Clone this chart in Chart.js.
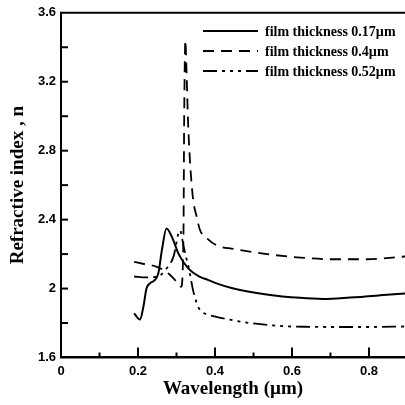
<!DOCTYPE html>
<html>
<head>
<meta charset="utf-8">
<script src="https://cdn.jsdelivr.net/npm/chart.js@4"></script>
<style>
  html, body { margin: 0; padding: 0; background: #fff; }
</style>
</head>
<body>
<canvas id="myChart" width="405" height="405"></canvas>
<script>
// series (wavelength in µm, refractive index n)
const seriesLabels = ['film thickness 0.17\u00b5m', 'film thickness 0.4\u00b5m', 'film thickness 0.52\u00b5m'];

const wl017 = [0.19, 0.205, 0.214, 0.222, 0.231, 0.244, 0.253, 0.262, 0.274, 0.288, 0.305, 0.331, 0.361, 0.383, 0.404, 0.448, 0.534, 0.621, 0.681, 0.751, 0.837, 0.894];
const n017  = [1.856, 1.82, 1.894, 2.0, 2.03, 2.05, 2.09, 2.222, 2.348, 2.30, 2.203, 2.116, 2.068, 2.049, 2.03, 2.0, 1.966, 1.946, 1.94, 1.948, 1.962, 1.972];

const wl04 = [0.19, 0.22, 0.249, 0.279, 0.30, 0.312, 0.318, 0.320, 0.323, 0.326, 0.330, 0.335, 0.343, 0.352, 0.361, 0.38, 0.404, 0.448, 0.534, 0.621, 0.707, 0.794, 0.894];
const n04  = [2.155, 2.14, 2.126, 2.087, 2.04, 2.01, 2.3, 3.0, 3.44, 3.26, 2.97, 2.74, 2.52, 2.42, 2.34, 2.29, 2.251, 2.23, 2.2, 2.18, 2.17, 2.17, 2.186];

const wl052 = [0.19, 0.22, 0.249, 0.274, 0.292, 0.309, 0.318, 0.325, 0.331, 0.337, 0.343, 0.352, 0.361, 0.38, 0.404, 0.45, 0.491, 0.577, 0.65, 0.707, 0.8, 0.894];
const n052  = [2.07, 2.065, 2.068, 2.116, 2.184, 2.338, 2.25, 2.18, 2.13, 2.06, 1.99, 1.92, 1.875, 1.85, 1.836, 1.815, 1.80, 1.782, 1.778, 1.777, 1.777, 1.78];

const xMin = 0, xMax = 0.8935, xStep = 0.1;
const yMin = 1.6, yMax = 3.6, yStep = 0.2;

const toPoints = (xs, ys) => xs.map((x, i) => ({ x: x, y: ys[i] }));

// ticks inside the frame, top frame line, and the legend
const framePlugin = {
    id: 'frame',
    afterDraw(chart) {
        const ctx = chart.ctx;
        const area = chart.chartArea;
        const xs = chart.scales.x, ys = chart.scales.y;
        ctx.save();
        ctx.strokeStyle = '#000';
        ctx.lineWidth = 2;
        ctx.beginPath();
        ctx.moveTo(area.left - 1, area.top);
        ctx.lineTo(area.right, area.top);
        ctx.stroke();

        xs.ticks.forEach(t => {
            if (t.value <= xMin) return;
            const px = xs.getPixelForValue(t.value);
            const len = (Math.round(t.value * 10) % 2 === 0) ? 10 : 5;
            ctx.beginPath();
            ctx.moveTo(px, area.bottom);
            ctx.lineTo(px, area.bottom - len);
            ctx.stroke();
        });
        ys.ticks.forEach(t => {
            if (t.value <= yMin || t.value >= yMax) return;
            const py = ys.getPixelForValue(t.value);
            ctx.beginPath();
            ctx.moveTo(area.left, py);
            ctx.lineTo(area.left + 7, py);
            ctx.stroke();
        });

        // legend
        ctx.font = 'bold 14px "Liberation Serif", "Times New Roman", serif';
        ctx.fillStyle = '#000';
        ctx.textBaseline = 'middle';
        chart.data.datasets.forEach((ds, i) => {
            const y = 31 + i * 20;
            ctx.save();
            ctx.lineWidth = ds.borderWidth;
            ctx.setLineDash(ds.borderDash || []);
            ctx.beginPath();
            ctx.moveTo(203, y);
            ctx.lineTo(258, y);
            ctx.stroke();
            ctx.restore();
            ctx.fillText(ds.label, 265, y + 1);
        });
        ctx.restore();
    }
};

const ctx = document.getElementById('myChart').getContext('2d');
const myChart = new Chart(ctx, {
    type: 'line',
    data: {
        datasets: [{
            label: seriesLabels[0],
            data: toPoints(wl017, n017),
            borderColor: '#000',
            borderWidth: 2,
            cubicInterpolationMode: 'monotone'
        }, {
            label: seriesLabels[1],
            data: toPoints(wl04, n04),
            borderColor: '#000',
            borderWidth: 1.8,
            borderDash: [11, 7],
            cubicInterpolationMode: 'monotone'
        }, {
            label: seriesLabels[2],
            data: toPoints(wl052, n052),
            borderColor: '#000',
            borderWidth: 1.8,
            borderDash: [14, 5, 3, 5, 3, 5, 3, 5],
            cubicInterpolationMode: 'monotone'
        }]
    },
    options: {
        responsive: false,
        animation: false,
        devicePixelRatio: 1,
        elements: { point: { radius: 0 } },
        layout: { padding: { top: 12, right: 0, left: 0, bottom: 0 } },
        plugins: { legend: { display: false }, tooltip: { enabled: false } },
        scales: {
            x: {
                type: 'linear',
                position: 'bottom',
                min: xMin,
                max: xMax,
                grid: { display: false, drawTicks: false },
                border: { display: true, color: '#000', width: 2.5 },
                ticks: {
                    stepSize: xStep,
                    includeBounds: false,
                    autoSkip: false,
                    maxRotation: 0,
                    padding: 6,
                    color: '#000',
                    font: { family: '"Liberation Sans", Arial, sans-serif', size: 13, weight: 'bold' },
                    callback: v => (Math.round(v * 10) % 2 === 0) ? String(+v.toFixed(1)) : ''
                },
                title: {
                    display: true,
                    text: 'Wavelength (\u00b5m)',
                    color: '#000',
                    font: { family: '"Liberation Serif", "Times New Roman", serif', size: 19, weight: 'bold' },
                    padding: { top: 0, bottom: 5 }
                },
                afterFit: s => { s.height = 47.5; }
            },
            y: {
                type: 'linear',
                min: yMin,
                max: yMax,
                grid: { display: false, drawTicks: false },
                border: { display: true, color: '#000', width: 2 },
                ticks: {
                    stepSize: yStep,
                    autoSkip: false,
                    padding: 5,
                    color: '#000',
                    font: { family: '"Liberation Sans", Arial, sans-serif', size: 13, weight: 'bold' },
                    callback: v => (Math.round((v - 1.6) * 10) % 4 === 0) ? String(+v.toFixed(1)) : ''
                },
                title: {
                    display: true,
                    text: 'Refractive index , n',
                    color: '#000',
                    font: { family: '"Liberation Serif", "Times New Roman", serif', size: 19, weight: 'bold' },
                    padding: { top: 7, bottom: 0 }
                },
                afterFit: s => { s.width = 61; }
            }
        }
    },
    plugins: [framePlugin]
});
</script>
</body>
</html>
